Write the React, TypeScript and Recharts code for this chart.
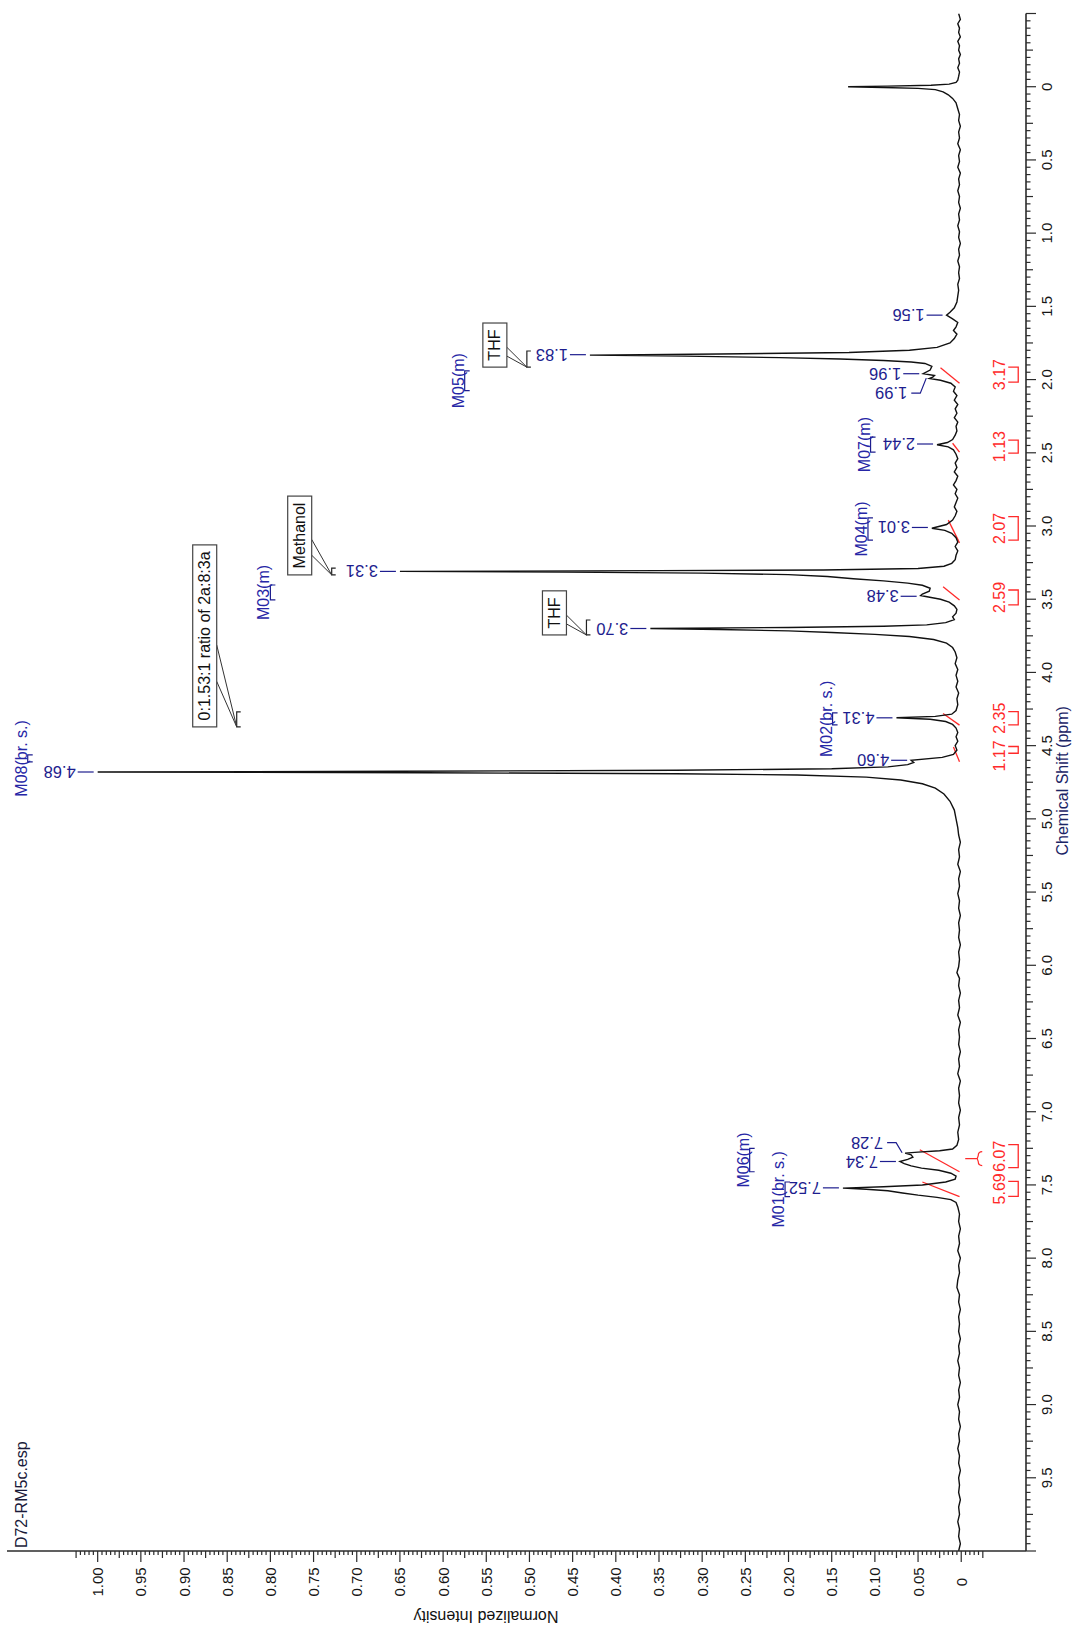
import { LineChart, Line, XAxis, YAxis, ReferenceDot, ReferenceLine } from "recharts";

// The spectrum is drawn the usual way (shift axis along the bottom) and the whole
// chart is turned 90° counter-clockwise, like the exported page.
const FONT = '"Liberation Sans", Arial, Helvetica, sans-serif';
const AXIS = "#2b2b2b";
const NAVY = "#1d1d8e";
const RED = "#ff2a2a";

// [chemical shift (ppm), normalized intensity]
const SPECTRUM_POINTS: [number, number][] = [
  [-0.5, 0.003], [-0.46, 0.001], [-0.43, 0.004], [-0.4, 0.002], [-0.37, 0.003], [-0.34, 0.001],
  [-0.31, 0.004], [-0.28, 0.002], [-0.25, 0.003], [-0.22, 0.001], [-0.19, 0.003], [-0.16, 0.002],
  [-0.13, 0.004], [-0.1, 0.002], [-0.07, 0.003], [-0.045, 0.004],
  // TMS
  [-0.03, 0.006], [-0.018, 0.014], [-0.01, 0.035], [-0.004, 0.085], [0.0, 0.131], [0.005, 0.09],
  [0.011, 0.05], [0.02, 0.03], [0.035, 0.021], [0.055, 0.015], [0.08, 0.01], [0.11, 0.006], [0.15, 0.004],
  [0.19, 0.002], [0.23, 0.003], [0.27, 0.001], [0.31, 0.003], [0.35, 0.002], [0.39, 0.004], [0.43, 0.001],
  [0.47, 0.003], [0.51, 0.002], [0.55, 0.004], [0.59, 0.001], [0.63, 0.003], [0.67, 0.002], [0.71, 0.004],
  [0.75, 0.002], [0.79, 0.003], [0.83, 0.001], [0.87, 0.003], [0.91, 0.002], [0.95, 0.004], [0.99, 0.002],
  [1.03, 0.003], [1.07, 0.001], [1.11, 0.003], [1.15, 0.002], [1.19, 0.004], [1.23, 0.002], [1.27, 0.003],
  [1.31, 0.002], [1.35, 0.004], [1.39, 0.003], [1.43, 0.004], [1.47, 0.005],
  [1.51, 0.008], [1.54, 0.013], [1.56, 0.017], [1.585, 0.01], [1.61, 0.004], [1.64, 0.006], [1.665, 0.009],
  [1.69, 0.005], [1.72, 0.008],
  // THF
  [1.75, 0.013], [1.78, 0.028], [1.8, 0.06], [1.815, 0.13], [1.825, 0.28], [1.833, 0.43], [1.84, 0.32],
  [1.85, 0.21], [1.86, 0.14], [1.87, 0.09], [1.88, 0.058], [1.89, 0.042], [1.91, 0.034], [1.935, 0.036],
  [1.96, 0.044], [1.972, 0.031], [1.983, 0.033], [1.993, 0.037], [2.005, 0.024], [2.025, 0.012], [2.05, 0.007],
  [2.08, 0.009], [2.11, 0.005], [2.14, 0.008], [2.17, 0.004], [2.2, 0.007], [2.23, 0.005], [2.26, 0.008],
  [2.29, 0.004], [2.32, 0.006], [2.35, 0.005], [2.38, 0.007],
  [2.41, 0.01], [2.43, 0.016], [2.445, 0.028], [2.46, 0.015], [2.48, 0.009], [2.51, 0.006],
  [2.54, 0.004], [2.57, 0.007], [2.6, 0.005], [2.63, 0.008], [2.66, 0.004], [2.69, 0.006], [2.72, 0.009],
  [2.75, 0.005], [2.78, 0.007], [2.81, 0.004], [2.84, 0.006], [2.87, 0.008], [2.9, 0.005], [2.93, 0.007],
  [2.96, 0.01], [2.99, 0.017], [3.015, 0.034], [3.03, 0.019], [3.05, 0.011], [3.08, 0.006], [3.11, 0.004],
  [3.14, 0.007], [3.17, 0.004], [3.2, 0.006], [3.23, 0.007], [3.255, 0.011],
  // methanol
  [3.275, 0.02], [3.29, 0.05], [3.3, 0.16], [3.305, 0.35], [3.31, 0.65], [3.315, 0.46], [3.322, 0.3],
  [3.332, 0.2], [3.345, 0.155], [3.36, 0.125], [3.375, 0.09], [3.39, 0.062], [3.405, 0.045], [3.425, 0.036],
  [3.445, 0.037], [3.465, 0.045], [3.475, 0.047], [3.485, 0.038], [3.5, 0.024], [3.52, 0.014], [3.545, 0.008],
  [3.57, 0.005], [3.595, 0.006], [3.62, 0.01], [3.64, 0.008], [3.66, 0.018],
  // THF
  [3.675, 0.04], [3.685, 0.09], [3.693, 0.2], [3.7, 0.36], [3.707, 0.28], [3.716, 0.2], [3.727, 0.15],
  [3.74, 0.1], [3.755, 0.06], [3.775, 0.032], [3.8, 0.017], [3.83, 0.01], [3.86, 0.007],
  [3.9, 0.005], [3.94, 0.007], [3.98, 0.004], [4.02, 0.006], [4.06, 0.004], [4.1, 0.006], [4.14, 0.003],
  [4.18, 0.005], [4.22, 0.004], [4.26, 0.006],
  [4.285, 0.011], [4.3, 0.03], [4.31, 0.075], [4.32, 0.036], [4.335, 0.018], [4.355, 0.01], [4.38, 0.006],
  [4.41, 0.004], [4.44, 0.006], [4.47, 0.004], [4.5, 0.007], [4.53, 0.005], [4.56, 0.009], [4.58, 0.022],
  [4.6, 0.058], [4.615, 0.055], [4.63, 0.062], [4.645, 0.085], [4.658, 0.15], [4.668, 0.33], [4.675, 0.65],
  [4.68, 1.0], [4.685, 0.62], [4.692, 0.33], [4.7, 0.19], [4.715, 0.11], [4.735, 0.07], [4.76, 0.045],
  [4.79, 0.03], [4.83, 0.02], [4.88, 0.013], [4.94, 0.008], [5.0, 0.006], [5.06, 0.004],
  [5.11, 0.003], [5.16, 0.001], [5.21, 0.003], [5.26, 0.002], [5.31, 0.004], [5.36, 0.001], [5.41, 0.003],
  [5.46, 0.002], [5.51, 0.004], [5.56, 0.002], [5.61, 0.003], [5.66, 0.001], [5.71, 0.003], [5.76, 0.002],
  [5.81, 0.003], [5.86, 0.001], [5.91, 0.003], [5.96, 0.002], [6.01, 0.003], [6.05, 0.005], [6.09, 0.002],
  [6.14, 0.003], [6.19, 0.001], [6.24, 0.003], [6.29, 0.002], [6.34, 0.004], [6.39, 0.001], [6.44, 0.003],
  [6.49, 0.002], [6.54, 0.003], [6.59, 0.001], [6.64, 0.003], [6.69, 0.002], [6.74, 0.004], [6.79, 0.001],
  [6.84, 0.003], [6.89, 0.002], [6.94, 0.003], [6.99, 0.001], [7.04, 0.003], [7.09, 0.002], [7.14, 0.004],
  [7.19, 0.003], [7.23, 0.005],
  // aromatic
  [7.255, 0.01], [7.267, 0.025], [7.276, 0.05], [7.283, 0.065], [7.295, 0.058], [7.31, 0.056], [7.325, 0.062],
  [7.34, 0.071], [7.355, 0.066], [7.37, 0.058], [7.385, 0.046], [7.4, 0.026], [7.42, 0.012], [7.44, 0.006],
  [7.46, 0.007], [7.48, 0.018], [7.5, 0.045], [7.512, 0.09], [7.522, 0.137], [7.53, 0.11], [7.54, 0.085],
  [7.555, 0.068], [7.57, 0.05], [7.585, 0.028], [7.6, 0.012], [7.62, 0.006], [7.65, 0.004],
  [7.7, 0.002], [7.75, 0.003], [7.8, 0.001], [7.85, 0.003], [7.9, 0.002], [7.95, 0.004], [8.0, 0.001],
  [8.05, 0.003], [8.1, 0.002], [8.15, 0.004], [8.2, 0.005], [8.25, 0.002], [8.3, 0.003], [8.35, 0.001],
  [8.4, 0.003], [8.45, 0.002], [8.5, 0.003], [8.55, 0.001], [8.6, 0.003], [8.65, 0.002], [8.7, 0.004],
  [8.75, 0.002], [8.8, 0.003], [8.85, 0.001], [8.9, 0.003], [8.95, 0.002], [9.0, 0.004], [9.05, 0.002],
  [9.1, 0.003], [9.15, 0.001], [9.2, 0.003], [9.25, 0.002], [9.3, 0.004], [9.35, 0.002], [9.4, 0.003],
  [9.45, 0.001], [9.5, 0.003], [9.55, 0.002], [9.6, 0.003], [9.65, 0.001], [9.7, 0.003], [9.75, 0.002],
  [9.8, 0.004], [9.85, 0.002], [9.9, 0.003], [9.95, 0.001], [10.0, 0.003],
];

const PEAK_SHIFTS = [1.56, 1.83, 1.96, 1.99, 2.44, 3.01, 3.31, 3.48, 3.7, 4.31, 4.6, 4.68, 7.28, 7.34, 7.52];
const PEAK_HEIGHTS = [0.017, 0.43, 0.044, 0.037, 0.028, 0.034, 0.65, 0.047, 0.36, 0.075, 0.058, 1.0, 0.065, 0.071, 0.137];
// crowded labels are pushed sideways (px)
const PEAK_NUDGE: Record<string, number> = { "1.99": -15, "7.28": 10 };

const MULTIPLET_NAMES = ["M08(br. s.)", "M02(br. s.)", "M03(m)", "M05(m)", "M07(m)", "M04(m)", "M06(m)", "M01(br. s.)"];
const MULTIPLET_FROM = [4.563, 4.276, 3.403, 1.94, 2.393, 2.945, 7.25, 7.48];
const MULTIPLET_TO = [4.611, 4.358, 3.505, 2.075, 2.495, 3.096, 7.41, 7.58];
const MULTIPLET_LEVEL = [1.081, 0.149, 0.8, 0.575, 0.105, 0.108, 0.245, 0.204];

const CALLOUT_TEXT = ["THF", "Methanol", "THF", "0:1.53:1 ratio of 2a:8:3a"];
const CALLOUT_FROM = [1.805, 3.287, 3.642, 4.27];
const CALLOUT_TO = [1.915, 3.334, 3.744, 4.372];
const CALLOUT_LEVEL = [0.503, 0.729, 0.434, 0.839];

const INTEGRAL_VALUES = ["3.17", "1.13", "2.07", "2.59", "2.35", "1.17", "6.07", "5.69"];
const INTEGRAL_FROM = [1.915, 2.413, 2.936, 3.437, 4.268, 4.506, 7.225, 7.476];
const INTEGRAL_TO = [2.017, 2.502, 3.096, 3.539, 4.358, 4.552, 7.382, 7.578];
const INTEGRAL_CURVE_START = [2.025, 2.495, 3.115, 3.505, 4.36, 4.61, 7.41, 7.58];
const INTEGRAL_CURVE_END = [1.92, 2.435, 2.96, 3.415, 4.28, 4.51, 7.26, 7.48];
const INTEGRAL_CURVE_RISE = [0.024, 0.01, 0.015, 0.021, 0.021, 0.009, 0.048, 0.045];
// label pushed sideways where two values would touch (px)
const INTEGRAL_NUDGE: Record<string, number> = { "1.17": -6 };

const PPM_LABELED = [0, 0.5, 1, 1.5, 2, 2.5, 3, 3.5, 4, 4.5, 5, 5.5, 6, 6.5, 7, 7.5, 8, 8.5, 9, 9.5];
const INTENSITY_LABELED = [0, 0.05, 0.1, 0.15, 0.2, 0.25, 0.3, 0.35, 0.4, 0.45, 0.5, 0.55, 0.6, 0.65, 0.7, 0.75, 0.8, 0.85, 0.9, 0.95, 1.0];

// minor tick marks: every 0.05 ppm and every 0.005 intensity
const ppmTicks = Array.from({ length: 211 }, (_, i) => (i - 10) * 0.05);
const intensityTicks = Array.from({ length: 211 }, (_, i) => (i - 5) * 0.005);

const INTEGRAL_ROW = -0.066;

const spectrum = SPECTRUM_POINTS.map(([ppm, intensity]) => ({ ppm, intensity }));

// Arial advance widths (per 1000 em) for the callout boxes
const CHAR_W: Record<string, number> = {
  ":": 278, ".": 278, " ": 278, r: 333, t: 278, i: 222, f: 278, l: 222,
  T: 611, H: 722, F: 611, M: 833,
};
const textWidth = (s: string, size: number) =>
  [...s].reduce((w, c) => w + (CHAR_W[c] ?? 556), 0) * size / 1000;

function PpmTick({ x, y, payload }: any) {
  const v = payload.value as number;
  const k = Math.round(v * 100);
  const major = k % 50 === 0;
  const len = major ? 10 : k % 25 === 0 ? 7 : 4.5;
  const show = PPM_LABELED.some((p) => Math.abs(p - v) < 1e-6);
  return (
    <g>
      <line x1={x} y1={y} x2={x} y2={y + len} stroke={AXIS} strokeWidth={1.2} />
      {show && (
        <text x={x} y={y + 26} textAnchor="middle" fontSize={15} fontFamily={FONT} fill="#151515">
          {v === 0 ? "0" : v.toFixed(1)}
        </text>
      )}
    </g>
  );
}

function IntensityTick({ x, y, payload }: any) {
  const v = payload.value as number;
  const k = Math.round(v * 1000);
  const major = k % 50 === 0;
  const len = major ? 11 : k % 25 === 0 ? 7 : 4;
  const show = INTENSITY_LABELED.some((p) => Math.abs(p - v) < 1e-6);
  return (
    <g>
      <line x1={x} y1={y} x2={x - len} y2={y} stroke={AXIS} strokeWidth={1.2} />
      {show && (
        <text x={x - 31} y={y} textAnchor="middle" dominantBaseline="central" fontSize={15} fontFamily={FONT} fill="#151515">
          {Math.abs(v) < 1e-9 ? "0" : v.toFixed(2)}
        </text>
      )}
    </g>
  );
}

const peakLabel = (label: string) => ({ cx, cy }: any) => {
  const nudge = PEAK_NUDGE[label] ?? 0;
  const tx = cx + nudge;
  const ty = cy - 20;
  const d = nudge
    ? `M${cx},${cy - 3} L${tx},${cy - 9} L${tx},${cy - 18}`
    : `M${cx},${cy - 4} L${cx},${cy - 20}`;
  return (
    <g>
      <path d={d} stroke={NAVY} strokeWidth={1.2} fill="none" />
      <text
        x={tx}
        y={ty - 2}
        transform={`rotate(-90 ${tx} ${ty - 2})`}
        textAnchor="start"
        dominantBaseline="central"
        fontSize={16.5}
        fontFamily={FONT}
        fill={NAVY}
      >
        {label}
      </text>
    </g>
  );
};

const multipletShape = (name: string) => ({ x1, x2, y1 }: any) => {
  const l = Math.min(x1, x2);
  const r = Math.max(x1, x2);
  return (
    <g>
      <path d={`M${l},${y1 + 5} L${l},${y1} L${r},${y1} L${r},${y1 + 5}`} stroke={NAVY} strokeWidth={1.2} fill="none" />
      <text x={(l + r) / 2} y={y1 - 1} textAnchor="middle" fontSize={16} fontFamily={FONT} fill="#2626a6">
        {name}
      </text>
    </g>
  );
};

const calloutShape = (label: string) => ({ x1, x2, y1 }: any) => {
  const l = Math.min(x1, x2);
  const r = Math.max(x1, x2);
  const bw = textWidth(label, 16) + 13;
  const bottom = y1 - 20;
  const bh = 24;
  return (
    <g>
      <path d={`M${l},${y1 + 4} L${l},${y1} L${r},${y1} L${r},${y1 + 4}`} stroke="#222" strokeWidth={1.2} fill="none" />
      <path d={`M${l + bw * 0.25},${bottom} L${l},${y1} L${l + bw * 0.45},${bottom}`} stroke="#333" strokeWidth={1} fill="none" />
      <rect x={l} y={bottom - bh} width={bw} height={bh} fill="#fff" stroke="#444" strokeWidth={1.2} />
      <text x={l + bw / 2} y={bottom - bh / 2} textAnchor="middle" dominantBaseline="central" fontSize={16} fontFamily={FONT} fill="#111">
        {label}
      </text>
    </g>
  );
};

const integralShape = (value: string) => ({ x1, x2, y1 }: any) => {
  const l = Math.min(x1, x2);
  const r = Math.max(x1, x2);
  const nudge = INTEGRAL_NUDGE[value] ?? 0;
  return (
    <g>
      <path d={`M${l},${y1 - 10} L${l},${y1} L${r},${y1} L${r},${y1 - 10}`} stroke={RED} strokeWidth={1.3} fill="none" />
      <text x={(l + r) / 2 + nudge} y={y1 - 13} textAnchor="middle" fontSize={16} fontFamily={FONT} fill={RED}>
        {value}
      </text>
    </g>
  );
};

const braceShape = ({ cx, cy }: any) => (
  <path
    d={`M${cx},${cy + 4} L${cx},${cy + 16} M${cx - 7},${cy + 21} Q${cx - 7},${cy + 17} ${cx - 3},${cy + 17} L${cx},${cy + 16} L${cx + 3},${cy + 17} Q${cx + 7},${cy + 17} ${cx + 7},${cy + 21}`}
    stroke={RED}
    strokeWidth={1.2}
    fill="none"
  />
);

const textShape = (label: string, opts: { rotate?: boolean; anchor?: string; size?: number; color?: string }) =>
  ({ cx, cy }: any) => (
    <text
      x={cx}
      y={cy}
      transform={opts.rotate ? `rotate(-90 ${cx} ${cy})` : undefined}
      textAnchor={opts.anchor ?? "middle"}
      fontSize={opts.size ?? 16}
      fontFamily={FONT}
      fill={opts.color ?? "#111"}
    >
      {label}
    </text>
  );

export default function App() {
  return (
    <div style={{ position: "absolute", left: 0, top: 0, width: 1075, height: 1626, overflow: "hidden", background: "#fff" }}>
      <div style={{ width: 1626, height: 1075, transformOrigin: "0 0", transform: "translate(0px, 1626px) rotate(-90deg)" }}>
        <LineChart width={1626} height={1075} data={spectrum} margin={{ top: 7, right: 13.5, bottom: 0, left: 0 }}>
          <XAxis
            dataKey="ppm"
            type="number"
            domain={[-0.5, 10]}
            reversed
            allowDataOverflow
            ticks={ppmTicks}
            interval={0}
            tickLine={false}
            tickSize={0}
            tickMargin={0}
            height={49}
            axisLine={{ stroke: AXIS, strokeWidth: 1.6 }}
            tick={<PpmTick />}
          />
          <YAxis
            type="number"
            domain={[-0.075, 1.105]}
            allowDataOverflow
            ticks={intensityTicks}
            interval={0}
            tickLine={false}
            tickSize={0}
            tickMargin={0}
            width={75}
            axisLine={{ stroke: AXIS, strokeWidth: 1.6 }}
            tick={<IntensityTick />}
          />

          {INTEGRAL_VALUES.map((v, i) => (
            <Line
              key={`ic-${v}-${i}`}
              data={[
                { ppm: INTEGRAL_CURVE_START[i], integral: 0.002 },
                { ppm: INTEGRAL_CURVE_END[i], integral: INTEGRAL_CURVE_RISE[i] },
              ]}
              dataKey="integral"
              type="linear"
              stroke={RED}
              strokeWidth={1.3}
              dot={false}
              isAnimationActive={false}
            />
          ))}

          <Line
            dataKey="intensity"
            type="linear"
            stroke="#111"
            strokeWidth={1.4}
            dot={false}
            isAnimationActive={false}
          />

          {PEAK_SHIFTS.map((p, i) => (
            <ReferenceDot
              key={`pk-${i}`}
              x={p}
              y={PEAK_HEIGHTS[i]}
              ifOverflow="visible"
              shape={peakLabel(p.toFixed(2))}
            />
          ))}

          {MULTIPLET_NAMES.map((m, i) => (
            <ReferenceLine
              key={`mu-${m}`}
              segment={[
                { x: MULTIPLET_FROM[i], y: MULTIPLET_LEVEL[i] },
                { x: MULTIPLET_TO[i], y: MULTIPLET_LEVEL[i] },
              ]}
              ifOverflow="visible"
              shape={multipletShape(m)}
            />
          ))}

          {CALLOUT_TEXT.map((c, i) => (
            <ReferenceLine
              key={`co-${i}`}
              segment={[
                { x: CALLOUT_FROM[i], y: CALLOUT_LEVEL[i] },
                { x: CALLOUT_TO[i], y: CALLOUT_LEVEL[i] },
              ]}
              ifOverflow="visible"
              shape={calloutShape(c)}
            />
          ))}

          {INTEGRAL_VALUES.map((v, i) => (
            <ReferenceLine
              key={`ig-${i}`}
              segment={[
                { x: INTEGRAL_FROM[i], y: INTEGRAL_ROW },
                { x: INTEGRAL_TO[i], y: INTEGRAL_ROW },
              ]}
              ifOverflow="visible"
              shape={integralShape(v)}
            />
          ))}
          <ReferenceDot x={7.32} y={0} ifOverflow="visible" shape={braceShape} />

          <ReferenceDot x={9.98} y={1.082} ifOverflow="visible" shape={textShape("D72-RM5c.esp", { anchor: "start", color: "#1a1a3a" })} />
          <ReferenceDot x={4.74} y={-0.124} ifOverflow="visible" shape={textShape("Chemical Shift (ppm)", { color: "#1b2566" })} />
          <ReferenceDot x={10.41} y={0.5504} ifOverflow="visible" shape={textShape("Normalized Intensity", { rotate: true })} />
        </LineChart>
      </div>
    </div>
  );
}
